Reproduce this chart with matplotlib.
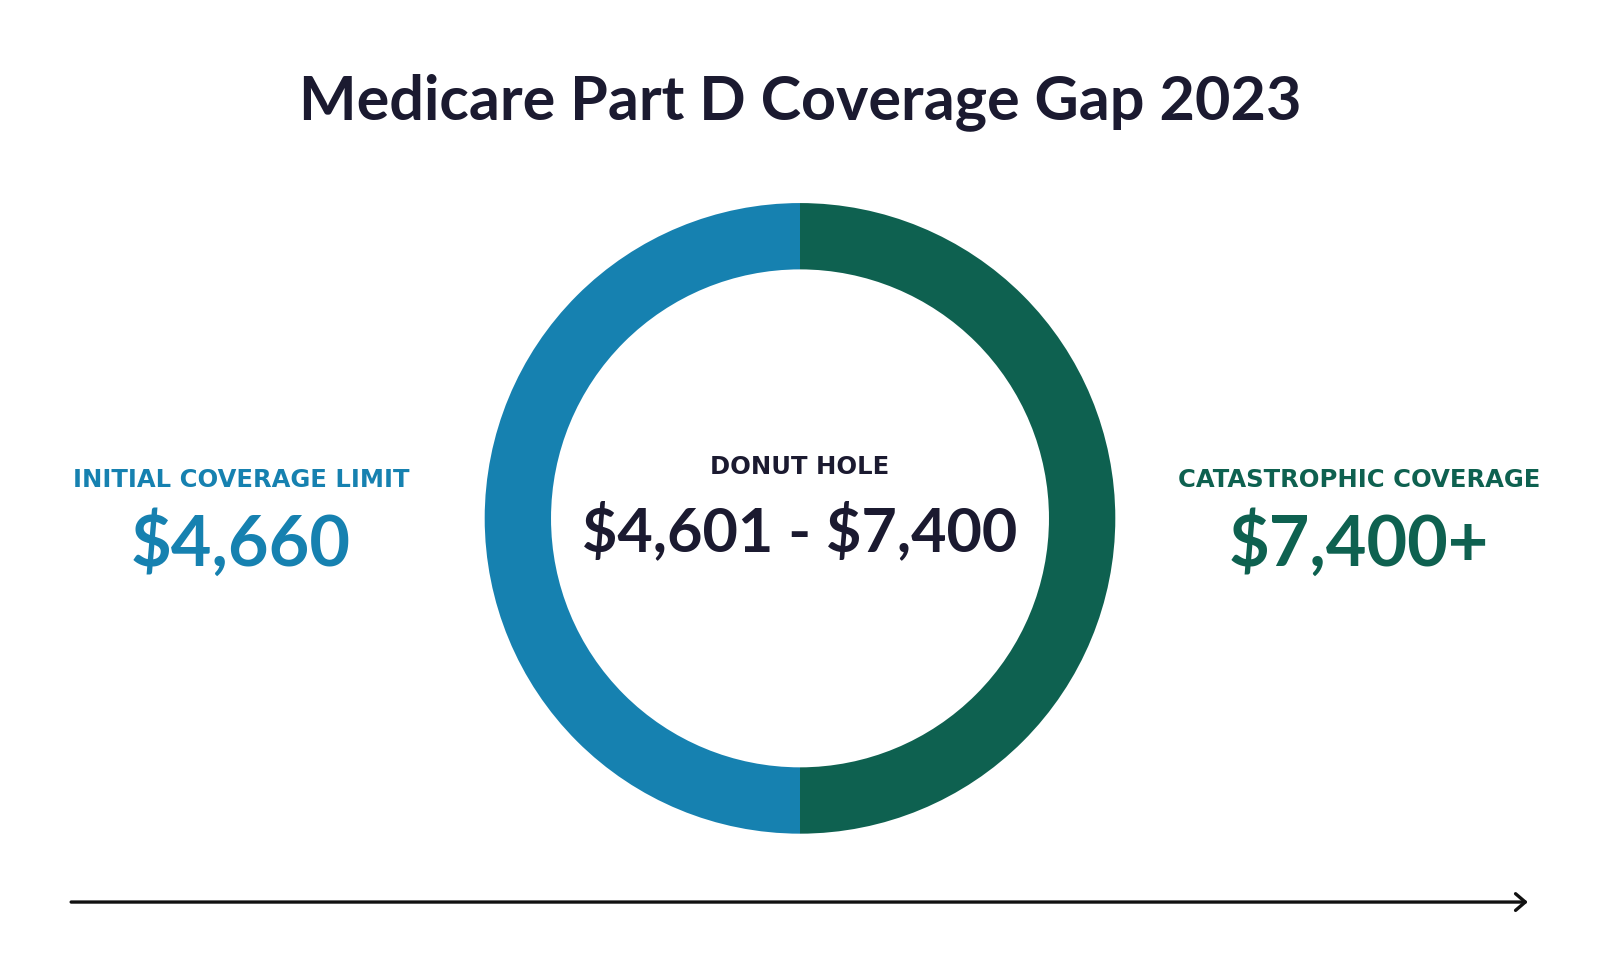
import matplotlib
matplotlib.use('Agg')
import matplotlib.pyplot as plt

plt.rcParams['font.family'] = ['Lato', 'DejaVu Sans']

# data
segments = ['Initial coverage', 'Catastrophic coverage']
shares = [1, 1]
seg_colors = ['#1681b0', '#0e6150']

title = 'Medicare Part D Coverage Gap 2023'
left_label = 'INITIAL COVERAGE LIMIT'
left_value = '$4,660'
mid_label = 'DONUT HOLE'
mid_value = '$4,601 - $7,400'
right_label = 'CATASTROPHIC COVERAGE'
right_value = '$7,400+'

# layout units: reference picture scaled to 1568 wide
W = 1568
H = 968 * W / 1600
navy = '#1b1a30'

fig = plt.figure(figsize=(16, 9.68), dpi=100)
ax = fig.add_axes([0, 0, 1, 1])

# donut, blue on the left half, green on the right
ax.pie(shares, colors=seg_colors, startangle=90, counterclock=True,
       center=(784, H - 508), radius=309,
       wedgeprops=dict(width=65, linewidth=0))

ax.set_xlim(0, W)
ax.set_ylim(0, H)
ax.set_aspect('equal')
ax.axis('off')

ax.text(784, H - 100, title, ha='center', va='center', fontsize=44,
        fontweight='bold', color=navy)

lab_font = dict(family=['DejaVu Sans'], fontsize=17.5, fontweight='bold')
val_font = dict(fontsize=50.5, fontweight='bold', parse_math=False)

# left
ax.text(236, H - 470, left_label, ha='center', va='center',
        color=seg_colors[0], **lab_font)
ax.text(236, H - 533, left_value, ha='center', va='center',
        color=seg_colors[0], **val_font)

# middle
ax.text(784, H - 458, mid_label, ha='center', va='center',
        color=navy, **lab_font)
ax.text(784, H - 521, mid_value, ha='center', va='center', fontsize=44,
        fontweight='bold', color=navy, parse_math=False)

# right
ax.text(1332, H - 470, right_label, ha='center', va='center',
        color=seg_colors[1], **lab_font)
ax.text(1332, H - 533, right_value, ha='center', va='center',
        color=seg_colors[1], **val_font)

# timeline arrow
ax.annotate('', xy=(1500, H - 884), xytext=(67, H - 884),
            arrowprops=dict(arrowstyle='->,head_length=0.7,head_width=0.6',
                            color='#111111', lw=2.4))

fig.savefig('out.png', dpi=100, facecolor='white')
